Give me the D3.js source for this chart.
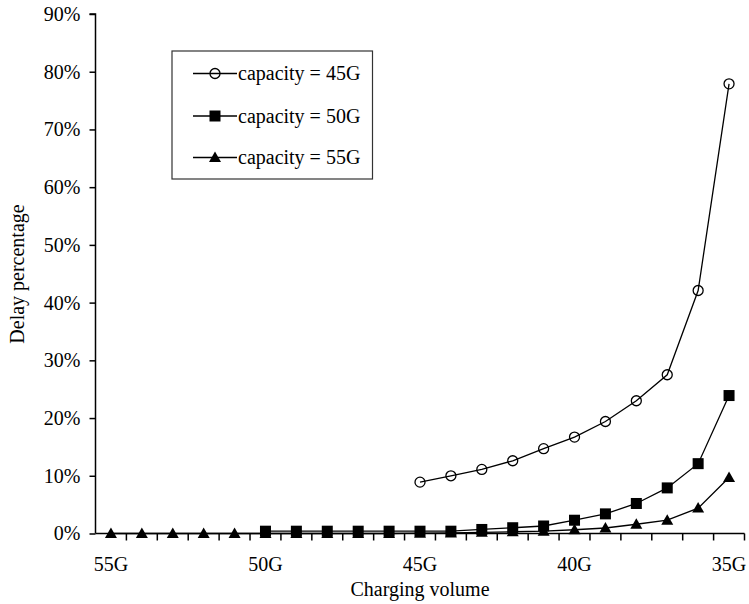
<!DOCTYPE html>
<html>
<head>
<meta charset="utf-8">
<script src="https://cdn.jsdelivr.net/npm/d3@7"></script>
<style>
  html, body { margin: 0; padding: 0; background: #fff; }
  svg { display: block; }
  svg text { font-family: 'Liberation Serif', 'Times New Roman', Tinos, 'DejaVu Serif', serif; }
</style>
</head>
<body>
<svg id="chart" width="749" height="604"></svg>
<script>
// ---- data ----
const categories = ["55G","54G","53G","52G","51G","50G","49G","48G","47G","46G","45G",
                    "44G","43G","42G","41G","40G","39G","38G","37G","36G","35G"];
const xTickLabels = ["55G","50G","45G","40G","35G"];
const yTicks = [0,10,20,30,40,50,60,70,80,90];
const seriesNames = ["capacity = 45G","capacity = 50G","capacity = 55G"];
// values in percent, null = no point
const cap45 = [null,null,null,null,null,null,null,null,null,null,
               8.9,10.0,11.1,12.6,14.7,16.7,19.4,23.0,27.5,42.1,77.9];
const cap50 = [null,null,null,null,null,
               0.4,0.4,0.4,0.4,0.4,0.4,0.4,0.7,1.0,1.3,2.3,3.4,5.2,7.9,12.1,23.9];
const cap55 = [0,0,0,0,0,0,0,0,0,0,
               0.05,0.1,0.2,0.3,0.4,0.65,0.95,1.6,2.3,4.4,9.7];

const svg = d3.select("#chart");

const x = d3.scaleBand().domain(categories).range([95.5, 744.5]).padding(0);
const y = d3.scaleLinear().domain([0, 90]).range([533.5, 14]);

// y axis
const yAxis = d3.axisLeft(y).tickValues(yTicks).tickFormat(d => d + "%").tickSize(6).tickPadding(9);
const gy = svg.append("g").attr("transform", "translate(95.5,0)").call(yAxis);
gy.attr("font-family", null);
gy.select(".domain").attr("stroke", "#000").attr("stroke-width", 1.5).attr("d", `M-6,${y(90)}H0V${y(0)}`);
gy.selectAll(".tick line").attr("stroke", "#000").attr("stroke-width", 1.5);
gy.selectAll(".tick text").attr("font-size", 20).attr("fill", "#000");

// x axis: line + ticks at band edges
const gx = svg.append("g").attr("transform", `translate(0,${y(0)})`);
gx.append("line").attr("x1", x.range()[0]).attr("x2", x.range()[1])
  .attr("stroke", "#000").attr("stroke-width", 1.5);
const edges = categories.map(c => x(c)).concat([x.range()[1]]);
gx.selectAll("line.tk").data(edges.slice(1)).join("line").attr("class","tk")
  .attr("x1", d => d).attr("x2", d => d).attr("y1", 0).attr("y2", 7)
  .attr("stroke", "#000").attr("stroke-width", 1.5);
gx.selectAll("text").data(xTickLabels).join("text")
  .attr("x", d => x(d) + x.bandwidth()/2).attr("y", 37)
  .attr("text-anchor", "middle").attr("font-size", 20).text(d => d);

// axis titles
svg.append("text").attr("x", 420).attr("y", 596).attr("text-anchor", "middle")
  .attr("font-size", 20).text("Charging volume");
svg.append("text").attr("transform", "translate(24,274) rotate(-90)").attr("text-anchor", "middle")
  .attr("font-size", 20).text("Delay percentage");

// series
const cx = i => x(categories[i]) + x.bandwidth()/2;
const line = d3.line().defined(d => d.v !== null).x(d => cx(d.i)).y(d => y(d.v));
const series = [cap45, cap50, cap55];
const markers = ["circle","square","triangle"];

function drawMarker(g, type, px, py) {
  if (type === "circle") {
    g.append("circle").attr("cx", px).attr("cy", py).attr("r", 5)
      .attr("fill", "none").attr("stroke", "#000").attr("stroke-width", 1.3);
  } else if (type === "square") {
    g.append("rect").attr("x", px - 5.5).attr("y", py - 5.5).attr("width", 11).attr("height", 11).attr("fill", "#000");
  } else {
    g.append("path").attr("d", `M${px},${py-6}L${px+6},${py+4.5}L${px-6},${py+4.5}Z`).attr("fill", "#000");
  }
}

series.forEach((vals, k) => {
  const data = vals.map((v, i) => ({i, v}));
  svg.append("path").datum(data).attr("d", line)
    .attr("fill", "none").attr("stroke", "#000").attr("stroke-width", 1.3);
  const g = svg.append("g");
  data.filter(d => d.v !== null).forEach(d => drawMarker(g, markers[k], cx(d.i), y(d.v)));
});

// legend
const lg = svg.append("g");
lg.append("rect").attr("x", 172).attr("y", 51).attr("width", 200.5).attr("height", 128)
  .attr("fill", "#fff").attr("stroke", "#333").attr("stroke-width", 1.2);
const rowsY = [73.5, 116, 157.5];
seriesNames.forEach((name, k) => {
  const ry = rowsY[k];
  lg.append("line").attr("x1", 193).attr("x2", 237).attr("y1", ry).attr("y2", ry)
    .attr("stroke", "#000").attr("stroke-width", 1.3);
  drawMarker(lg, markers[k], 215, ry);
  lg.append("text").attr("x", 238).attr("y", ry + 6.5)
    .attr("font-size", 20).text(name);
});
</script>
</body>
</html>
